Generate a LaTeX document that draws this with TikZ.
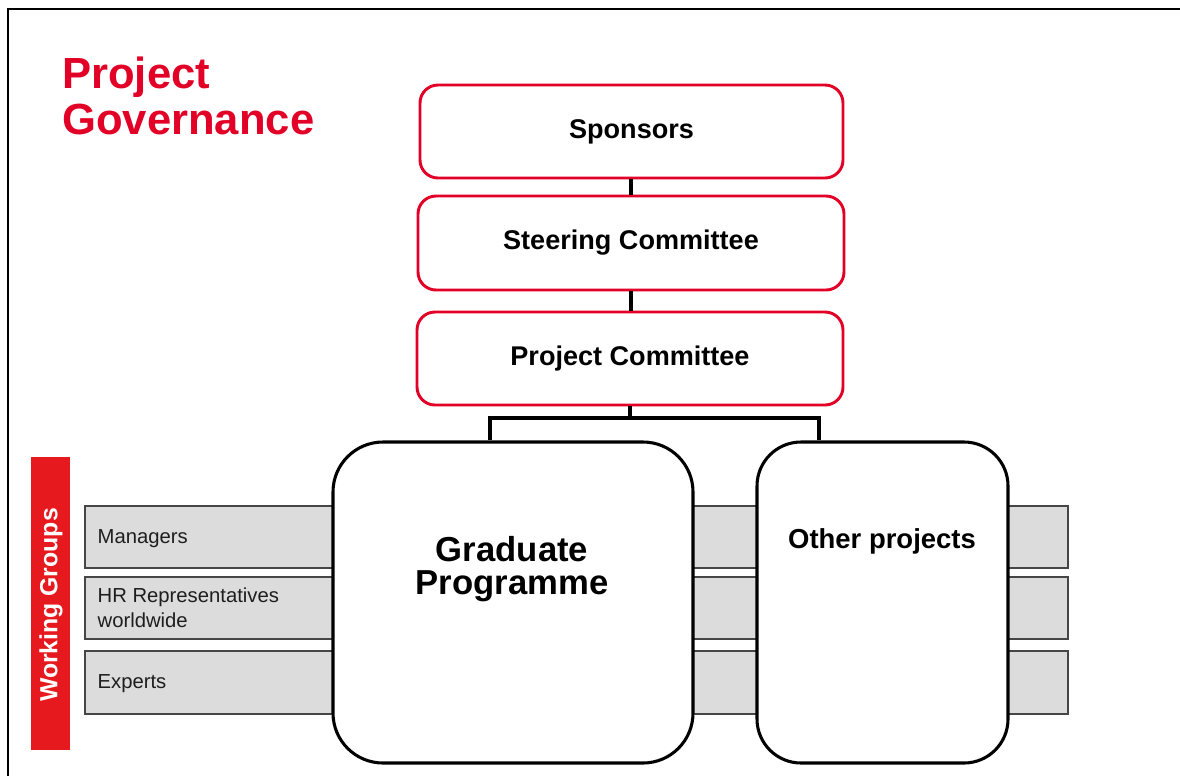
\documentclass[tikz,border=0pt]{standalone}
\usepackage{fontspec}
\setmainfont{Liberation Sans}
\definecolor{govred}{RGB}{226,0,38}
\definecolor{barred}{RGB}{230,26,30}
\definecolor{rowgrey}{RGB}{220,220,220}
\definecolor{rowline}{RGB}{70,70,70}
\definecolor{rowtext}{RGB}{30,30,30}
\tikzset{
  redbox/.style={draw=govred, line width=2.2pt, fill=white, rounded corners=13.5pt, inner sep=0pt,
    font=\fontsize{20.3}{24}\selectfont\bfseries},
  bigbox/.style={draw=black, line width=2.3pt, fill=white, inner sep=0pt},
  rowbox/.style={draw=rowline, line width=0.9pt, fill=rowgrey, inner sep=0pt, minimum width=737.25pt},
  rowlabel/.style={anchor=west, inner sep=0pt, text=rowtext, align=left,
    font=\fontsize{15.2}{18.75}\selectfont},
  conn/.style={draw=black, line width=2.4pt}
}
\begin{document}
\begin{tikzpicture}[x=0.75pt,y=-0.75pt]
\useasboundingbox (0,0) rectangle (1180,775);
% frame
\draw[line width=2pt] (8,776) -- (8,9) -- (1181,9);
% title
\node[anchor=north west, inner sep=0pt, text=govred, align=left,
  font=\fontsize{32.7}{34.5}\selectfont\bfseries] (title) at (62,57) {Project\\Governance};
% hierarchy boxes
\node[redbox, minimum width=317.25pt, minimum height=69.75pt] (spon) at (631.5,131.5) {Sponsors};
\node[redbox, minimum width=319.5pt, minimum height=70.5pt] (steer) at (631,243) {Steering Committee};
\node[redbox, minimum width=319.5pt, minimum height=69.75pt] (proj) at (630,358.5) {Project Committee};
% working group rows
\node[rowbox, minimum height=46.5pt] (rman) at (576.5,537) {};
\node[rowbox, minimum height=46.5pt] (rhr) at (576.5,608) {};
\node[rowbox, minimum height=47.25pt] (rexp) at (576.5,682.5) {};
\node[rowlabel] (lman) at ([xshift=9.75pt,yshift=-1pt]rman.west) {Managers};
\node[rowlabel] (lhr) at ([xshift=9.75pt]rhr.west) {HR Representatives\\worldwide};
\node[rowlabel] (lexp) at ([xshift=9.75pt,yshift=-1pt]rexp.west) {Experts};
% working groups bar
\node[fill=barred, minimum width=29.25pt, minimum height=219.75pt, inner sep=0pt] (bar) at (50.5,603.5) {};
\node[rotate=90, text=white, inner sep=0pt, font=\fontsize{18.6}{20}\selectfont\bfseries] (wg) at (51,605) {Working Groups};
% big boxes
\node[bigbox, rounded corners=37.5pt, minimum width=270pt, minimum height=240.75pt] (grad) at (513,602.5) {};
\node[bigbox, rounded corners=33pt, minimum width=188.25pt, minimum height=240.75pt] (oth) at (882.5,602.5) {};
\node[anchor=north, inner sep=0pt, align=center, font=\fontsize{26}{24.75}\selectfont\bfseries] (gradt) at (512,536) {Graduate\\Programme};
\node[anchor=north, inner sep=0pt, font=\fontsize{20.6}{24}\selectfont\bfseries] (otht) at (882,528) {Other projects};
% connectors
\coordinate (ja) at (490,418);
\coordinate (jb) at (819,418);
\draw[conn] (spon.south -| steer.north) -- (steer.north);
\draw[conn] (steer.south) -- (steer.south |- proj.north);
\draw[conn] (proj.south) -- (proj.south |- ja);
\draw[conn] (grad.north -| ja) -- (ja) -- (jb) -- (oth.north -| jb);
\end{tikzpicture}
\end{document}
